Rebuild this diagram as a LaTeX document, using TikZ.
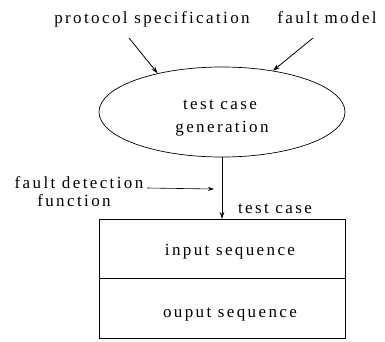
\documentclass[tikz,border=0pt]{standalone}
\usepackage{fontspec}
\setmainfont[LetterSpace=14]{Liberation Serif}
\usetikzlibrary{shapes.geometric,arrows.meta}
\begin{document}
\begin{tikzpicture}[x=1pt,y=-1pt,
  lbl/.style={font=\fontsize{17}{20}\selectfont,inner sep=0pt,anchor=base},
  conn/.style={line width=0.8pt,-{Stealth[length=7pt,width=4.5pt]}},
  boxpart/.style={draw,line width=0.6pt,minimum width=246pt,inner sep=0pt,outer sep=0pt}]
\useasboundingbox (0,0) rectangle (385,341);
\node[lbl] (ps) at (152,23) {protocol specification};
\node[lbl] (fm) at (327,23) {fault model};
\node[draw,ellipse,line width=0.7pt,minimum width=246pt,minimum height=90pt,inner sep=0pt] (el) at (222,112) {};
\node[lbl] (tc1) at (220,109) {test case};
\node[lbl] (gen) at (222,132) {generation};
\coordinate (a1) at (129,38);
\coordinate (a2) at (313,38);
\draw[conn] (a1) -- (el.149);
\draw[conn] (a2) -- (el.39);
\node[boxpart,minimum height=59pt,anchor=north west] (inp) at (99,219) {};
\node[boxpart,minimum height=60pt,anchor=north west] (out) at (99,278) {};
\node[lbl] at (230,255) (ins) {input sequence};
\node[lbl] at (230,317) (outs) {ouput sequence};
\draw[conn] (el.south) -- (inp.north);
\node[lbl] (fd1) at (79,188) {fault detection};
\node[lbl] (fd2) at (74,206) {function};
\coordinate (h1) at (147,188);
\coordinate (h2) at (214,189);
\draw[line width=0.6pt,-{Stealth[length=6pt,width=4pt]}] (h1) -- (h2);
\node[lbl] (tc2) at (275,213) {test case};
\end{tikzpicture}
\end{document}
